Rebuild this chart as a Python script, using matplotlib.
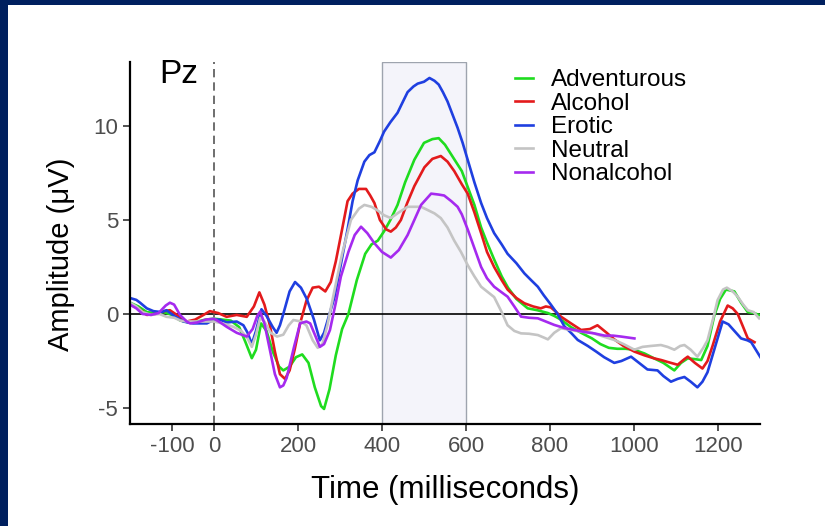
import matplotlib.pyplot as plt
from matplotlib.patches import Rectangle

plt.rcParams['font.family'] = ['Liberation Sans', 'DejaVu Sans']
plt.rcParams['axes.unicode_minus'] = False

# ERP waveforms at electrode Pz (ms, microvolts)
adv_t = [-200, -180, -160, -140, -120, -100, -80, -60, -40, -20, 0, 20, 40, 60, 75, 90, 100, 112,
         125, 140, 155, 165, 180, 195, 210, 225, 240, 255, 262, 275, 290, 305, 320, 340, 360, 375,
         390, 405, 420, 437, 455, 477, 500, 520, 535, 550, 570, 590, 605, 620, 636, 650, 667, 685,
         700, 720, 747, 770, 795, 810, 826, 850, 874, 900, 920, 940, 960, 980, 1000, 1025, 1048,
         1070, 1096, 1112, 1128, 1145, 1160, 1175, 1191, 1205, 1219, 1239, 1255, 1271, 1285, 1298]
adv_v = [0.6, 0.4, 0.1, 0.05, 0.1, -0.05, -0.35, -0.45, -0.4, -0.3, -0.25, -0.3, -0.35, -0.7, -1.5,
         -2.35, -1.9, -0.5, -0.9, -2.0, -2.8, -3.0, -2.8, -2.3, -2.15, -2.6, -3.9, -4.9, -5.05, -4.0,
         -2.2, -0.8, 0.0, 1.8, 3.2, 3.7, 3.9, 4.4, 5.0, 5.8, 7.0, 8.2, 9.1, 9.3, 9.35, 9.0, 8.3, 7.6,
         6.7, 5.8, 4.6, 3.8, 2.9, 2.0, 1.4, 0.8, 0.3, 0.2, 0.05, -0.1, -0.3, -0.7, -1.0, -1.3, -1.6,
         -1.8, -1.85, -1.85, -1.9, -2.1, -2.36, -2.6, -3.0, -2.6, -2.36, -2.4, -2.45, -1.7, -0.1, 0.8,
         1.3, 1.2, 0.6, 0.1, 0.05, -0.05]

alc_t = [-200, -180, -160, -140, -120, -105, -85, -65, -45, -25, -10, 10, 30, 54, 78, 95, 108, 120,
         133, 145, 157, 169, 180, 192, 205, 220, 235, 250, 265, 278, 290, 305, 318, 330, 345, 362,
         372, 382, 395, 410, 421, 433, 445, 460, 477, 501, 520, 540, 556, 572, 590, 604, 620, 636,
         650, 667, 685, 699, 720, 739, 760, 778, 790, 802, 815, 826, 850, 874, 895, 913, 935, 953,
         975, 1001, 1025, 1048, 1065, 1080, 1104, 1120, 1128, 1145, 1163, 1175, 1187, 1205, 1223,
         1235, 1247, 1260, 1271, 1287]
alc_v = [0.5, 0.3, -0.05, 0.0, 0.15, 0.2, -0.1, -0.4, -0.3, -0.05, 0.15, 0.05, -0.15, -0.05, -0.15,
         0.4, 1.15, 0.5, -0.6, -2.0, -3.2, -3.45, -3.0, -1.9, -0.5, 0.7, 1.4, 1.45, 1.2, 1.7, 2.8, 4.5,
         6.0, 6.4, 6.65, 6.65, 6.3, 5.9, 5.0, 4.5, 4.38, 4.6, 5.0, 5.9, 6.8, 7.8, 8.25, 8.4, 8.1, 7.6,
         6.9, 6.4, 5.4, 4.3, 3.3, 2.5, 1.8, 1.3, 0.85, 0.57, 0.4, 0.3, 0.4, 0.35, 0.1, -0.14, -0.5,
         -0.85, -0.8, -0.6, -1.0, -1.35, -1.7, -2.0, -2.2, -2.36, -2.45, -2.55, -2.7, -2.4, -2.27,
         -2.6, -2.9, -2.5, -1.7, -0.4, 0.45, 0.3, 0.0, -0.7, -1.3, -1.5]

ero_t = [-200, -185, -176, -160, -144, -125, -113, -95, -73, -50, -30, -17, 0, 14, 30, 54, 70, 80,
         90, 100, 113, 125, 140, 149, 157, 165, 180, 193, 207, 221, 238, 252, 262, 275, 287, 300,
         318, 330, 342, 358, 370, 382, 395, 405, 420, 437, 450, 461, 475, 485, 500, 513, 525, 535,
         545, 556, 568, 580, 592, 604, 620, 636, 650, 667, 685, 699, 720, 739, 755, 771, 785, 802,
         818, 834, 850, 866, 890, 910, 929, 953, 970, 993, 1012, 1032, 1056, 1070, 1088, 1104, 1120,
         1135, 1151, 1163, 1175, 1195, 1211, 1225, 1239, 1255, 1270, 1279, 1290, 1301]
ero_v = [0.85, 0.75, 0.6, 0.3, 0.15, 0.1, 0.2, -0.1, -0.4, -0.5, -0.5, -0.5, -0.3, -0.3, -0.45, -0.4,
         -0.6, -1.0, -1.6, -0.9, 0.25, -0.1, -0.7, -1.0, -0.6, 0.0, 1.2, 1.7, 1.4, 0.8, -0.3, -1.4,
         -1.0, 0.0, 0.9, 2.4, 4.5, 6.0, 7.1, 8.1, 8.45, 8.6, 9.2, 9.7, 10.2, 10.7, 11.3, 11.8, 12.1,
         12.25, 12.35, 12.55, 12.4, 12.2, 11.8, 11.3, 10.6, 9.9, 9.1, 8.2, 7.0, 5.9, 5.1, 4.3, 3.7,
         3.2, 2.7, 2.16, 1.8, 1.45, 1.0, 0.5, 0.0, -0.65, -1.0, -1.38, -1.7, -2.0, -2.3, -2.6, -2.5,
         -2.27, -2.6, -2.95, -3.0, -3.3, -3.6, -3.45, -3.35, -3.6, -3.9, -3.6, -3.1, -1.6, -0.4,
         -0.55, -0.9, -1.3, -1.4, -1.5, -1.9, -2.3]

neu_t = [-200, -185, -170, -150, -130, -113, -95, -80, -65, -40, -20, 0, 20, 46, 65, 80, 90, 100,
         110, 120, 135, 150, 165, 178, 189, 207, 220, 235, 247, 258, 270, 287, 305, 326, 345, 358,
         375, 390, 405, 421, 440, 461, 493, 525, 540, 556, 572, 588, 604, 620, 636, 650, 667, 685,
         699, 715, 731, 750, 771, 785, 795, 810, 826, 850, 874, 900, 920, 953, 975, 1001, 1020, 1040,
         1064, 1080, 1096, 1110, 1120, 1135, 1151, 1165, 1175, 1190, 1199, 1212, 1221, 1235, 1247,
         1260, 1271, 1285, 1298]
neu_v = [0.6, 0.4, 0.1, -0.05, 0.0, -0.15, -0.2, -0.35, -0.4, -0.4, -0.4, -0.4, -0.5, -0.68, -0.9,
         -1.3, -1.75, -1.1, -0.2, -0.4, -1.0, -1.2, -1.1, -0.6, -0.32, -0.4, -0.6, -1.4, -1.8, -1.6,
         -0.6, 1.28, 3.2, 5.0, 5.6, 5.8, 5.7, 5.5, 5.25, 5.1, 5.4, 5.7, 5.7, 5.35, 5.1, 4.6, 3.9, 3.3,
         2.6, 2.0, 1.45, 1.2, 0.9, 0.1, -0.6, -0.9, -1.03, -1.05, -1.12, -1.25, -1.35, -1.0, -0.76,
         -0.85, -0.94, -1.0, -1.15, -1.38, -1.6, -1.9, -1.75, -1.7, -1.65, -1.75, -1.9, -1.7, -1.65,
         -1.9, -2.27, -1.8, -1.4, -0.1, 0.74, 1.3, 1.4, 1.2, 0.92, 0.5, 0.2, 0.1, -0.23]

non_t = [-200, -185, -170, -150, -132, -115, -105, -95, -81, -65, -57, -40, -20, 0, 15, 30, 54, 78,
         92, 103, 110, 120, 133, 145, 157, 165, 173, 190, 205, 220, 229, 242, 252, 262, 276, 290,
         302, 320, 335, 350, 365, 382, 400, 421, 440, 461, 477, 493, 517, 535, 548, 565, 580, 590,
         604, 620, 636, 650, 667, 685, 699, 715, 731, 750, 771, 790, 810, 835, 858, 880, 905, 930,
         950, 969, 985, 1001]
non_v = [0.5, 0.3, 0.0, -0.05, 0.05, 0.45, 0.6, 0.5, -0.05, -0.4, -0.5, -0.45, -0.3, -0.25, -0.45,
         -0.68, -1.0, -1.2, -0.8, -0.1, 0.13, -0.5, -1.9, -3.2, -3.9, -3.8, -3.4, -1.8, -0.5, -0.4,
         -0.5, -1.2, -1.75, -1.6, -0.86, 0.6, 1.98, 3.3, 4.2, 4.64, 4.3, 3.76, 3.3, 3.0, 3.4, 4.2, 5.0,
         5.8, 6.4, 6.35, 6.3, 6.0, 5.7, 5.3, 4.5, 3.5, 2.5, 1.9, 1.45, 1.15, 0.92, 0.4, -0.14, -0.2,
         -0.23, -0.4, -0.58, -0.75, -0.85, -0.95, -1.03, -1.15, -1.15, -1.2, -1.25, -1.3]

labels = ['Adventurous', 'Alcohol', 'Erotic', 'Neutral', 'Nonalcohol']
colors = ['#1fdc1f', '#e31a1c', '#1f3fe0', '#c4c4c4', '#a52aef']
series = [(adv_t, adv_v), (alc_t, alc_v), (ero_t, ero_v), (neu_t, neu_v), (non_t, non_v)]

x_ticks = [-100, 0, 200, 400, 600, 800, 1000, 1200]
y_ticks = [-5, 0, 5, 10]
window = (400, 600)

fig = plt.figure(figsize=(8.25, 5.26), dpi=100)
fig.patch.set_facecolor('#00205f')
fig.add_artist(Rectangle((8 / 825, 0), 1, 1 - 5 / 526, transform=fig.transFigure,
                         facecolor='white', edgecolor='none', zorder=-1))

ax = fig.add_axes([130 / 825, 1 - 424 / 526, 630 / 825, 362 / 526])
ax.set_facecolor('white')

ax.axvspan(*window, facecolor='#f4f4fa', edgecolor='#9ea4ae', lw=1.0, zorder=0)
ax.axhline(0, color='black', lw=1.2, zorder=1)
ax.axvline(0, color='#555555', lw=1.2, ls=(0, (5, 3)), zorder=1)

for (t, v), lab, c in zip(series, labels, colors):
    ax.plot(t, v, color=c, lw=1.9, label=lab, solid_joinstyle='round', zorder=2)

ax.set_xlim(-200, 1300)
ax.set_ylim(-5.85, 13.4)
ax.set_xticks(x_ticks)
ax.set_yticks(y_ticks)
ax.tick_params(labelsize=16, labelcolor='#4d4d4d', length=5, width=1.2, color='#333333')

for s in ['top', 'right']:
    ax.spines[s].set_visible(False)
for s in ['left', 'bottom']:
    ax.spines[s].set_linewidth(1.6)

ax.set_xlabel('Time (milliseconds)', fontsize=22.5)
ax.set_ylabel('Amplitude (\u03bcV)', fontsize=21)
ax.yaxis.set_label_coords(-0.088, 0.47)
ax.xaxis.set_label_coords(0.5, -0.14)

ax.text(-130, 11.9, 'Pz', fontsize=24, color='black', ha='left', va='bottom')

ax.legend(loc='upper left', bbox_to_anchor=(0.611, 0.98), frameon=False, fontsize=17.5,
          handlelength=0.75, handletextpad=0.75, labelspacing=0.06,
          borderpad=0, borderaxespad=0)

plt.savefig('out.png', dpi=100, facecolor=fig.get_facecolor())
